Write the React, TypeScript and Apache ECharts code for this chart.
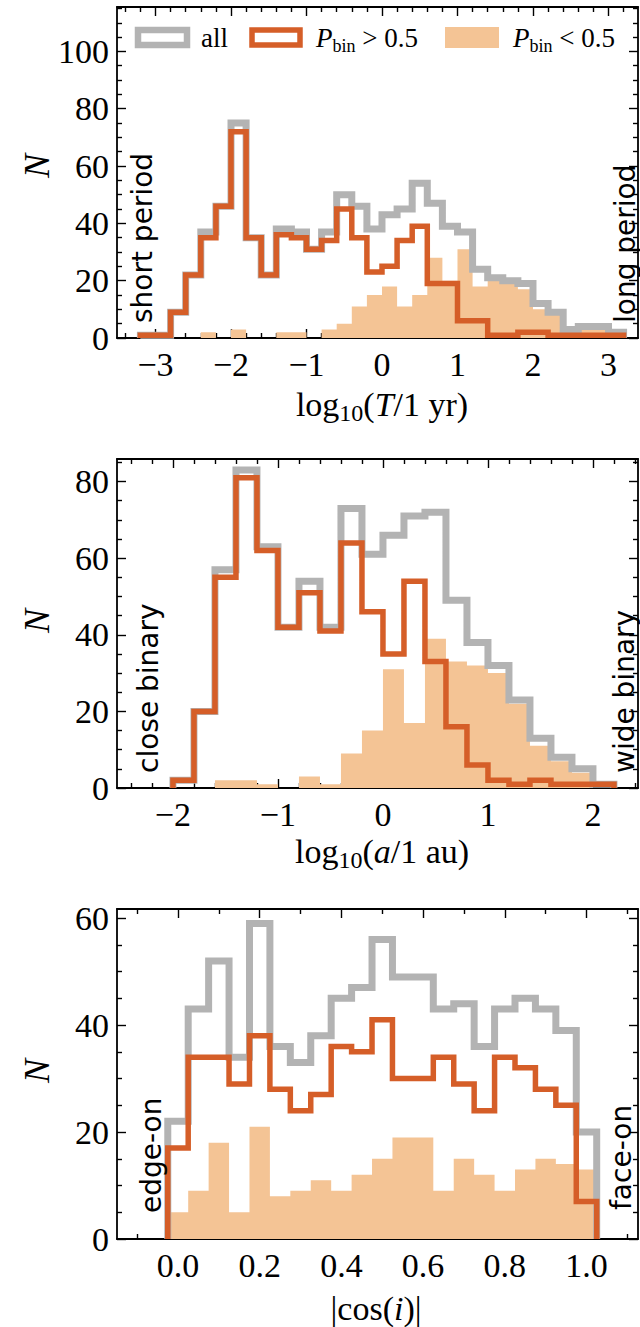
import React, { useEffect, useRef } from "react";
import * as echarts from "echarts";

// ---------- data: panel 1, log10(T / 1 yr), bins of 0.2 starting at -3.2 ----------
const periodBinStart = -3.2;
const periodBinWidth = 0.2;
const periodAll = [1, 1, 9, 22, 37, 46, 75, 35, 22, 38, 37, 31, 37, 50, 46, 38, 43, 45, 54, 47, 39, 37, 24, 21, 20, 19, 12, 9, 3, 4, 4, 2];
const periodHigh = [1, 1, 9, 22, 35, 46, 72, 35, 22, 36, 35, 31, 34, 45, 35, 23, 25, 34, 39, 19, 19, 6, 6, 1, 1, 2, 2, 1, 1, 1, 1, 1];
const periodLow = [0, 0, 0, 0, 2, 0, 3, 0, 0, 2, 2, 0, 3, 5, 11, 15, 18, 11, 15, 28, 20, 31, 18, 20, 19, 17, 10, 8, 2, 3, 3, 1];

// ---------- data: panel 2, log10(a / 1 au), bins of 0.2 starting at -2.0 ----------
const sepBinStart = -2.0;
const sepBinWidth = 0.2;
const sepAll = [2, 20, 57, 83, 63, 42, 54, 42, 73, 61, 66, 71, 72, 49, 38, 32, 23, 13, 8, 5, 1];
const sepHigh = [2, 20, 55, 81, 62, 42, 51, 41, 64, 46, 35, 54, 33, 16, 6, 2, 1, 2, 1, 1, 1];
const sepLow = [0, 0, 2, 2, 1, 0, 3, 1, 9, 15, 31, 17, 39, 33, 32, 30, 22, 11, 7, 4, 0];

// ---------- data: panel 3, |cos(i)|, bins of 0.05 starting at -0.025 ----------
const incBinStart = -0.025;
const incBinWidth = 0.05;
const incAll = [22, 43, 52, 34, 59, 36, 33, 38, 45, 47, 56, 49, 49, 43, 44, 36, 43, 45, 43, 39, 20];
const incHigh = [17, 34, 34, 29, 38, 28, 24, 27, 36, 35, 41, 30, 30, 34, 29, 24, 34, 32, 28, 25, 7];
const incLow = [5, 9, 18, 5, 21, 8, 9, 11, 9, 12, 15, 19, 19, 9, 15, 12, 9, 13, 15, 14, 13];

// ---------- tick labels ----------
const periodTicks = [-3, -2, -1, 0, 1, 2, 3];
const sepTicks = [-2, -1, 0, 1, 2];
const incTicks = [0, 0.2, 0.4, 0.6, 0.8, 1.0];
const yTicksPeriod = [0, 20, 40, 60, 80, 100];
const yTicksSep = [0, 20, 40, 60, 80];
const yTicksInc = [0, 20, 40, 60];

const seriesNames = ["all", "P_bin > 0.5", "P_bin < 0.5"];

// ---------- styles ----------
const GREY = "#b3b3b3";
const ORANGE = "#d55e28";
const FILL = "#f4c495";
const SERIF = '"Liberation Serif", "Times New Roman", serif';
const SANS = '"DejaVu Sans", "Noto Sans", sans-serif';
const TICK_FONT = 34;

function stepPoints(start: number, width: number, values: number[]) {
  const pts: number[][] = [[start, 0]];
  values.forEach((v, i) => {
    const x0 = +(start + i * width).toFixed(6);
    const x1 = +(start + (i + 1) * width).toFixed(6);
    pts.push([x0, v], [x1, v]);
  });
  pts.push([+(start + values.length * width).toFixed(6), 0]);
  return pts;
}

function minorTicks(min: number, max: number, step: number, majors: number[]) {
  const out: number[] = [];
  const k0 = Math.ceil(min / step - 1e-9);
  const k1 = Math.floor(max / step + 1e-9);
  for (let k = k0; k <= k1; k++) {
    const v = +(k * step).toFixed(6);
    if (!majors.some((m) => Math.abs(m - v) < 1e-6)) out.push(v);
  }
  return out;
}

const fmtInt = (v: number) => (v < 0 ? "\u2212" + Math.abs(v) : String(v));
const fmtDec = (v: number) => v.toFixed(1);

const panels = [
  {
    grid: { left: 117, top: 7, width: 521, height: 331 },
    xMin: -3.51, xMax: 3.391, yMax: 115.5,
    xMajors: periodTicks, xMinorStep: 0.2, yMajors: yTicksPeriod, yMinorStep: 5,
    start: periodBinStart, width: periodBinWidth,
    all: periodAll, high: periodHigh, low: periodLow, fmt: fmtInt,
  },
  {
    grid: { left: 117, top: 459, width: 521, height: 329 },
    xMin: -2.533, xMax: 2.429, yMax: 85.9,
    xMajors: sepTicks, xMinorStep: 0.2, yMajors: yTicksSep, yMinorStep: 5,
    start: sepBinStart, width: sepBinWidth,
    all: sepAll, high: sepHigh, low: sepLow, fmt: fmtInt,
  },
  {
    grid: { left: 117, top: 909, width: 521, height: 330 },
    xMin: -0.1493, xMax: 1.1261, yMax: 61.7,
    xMajors: incTicks, xMinorStep: 0.1, yMajors: yTicksInc, yMinorStep: 5,
    start: incBinStart, width: incBinWidth,
    all: incAll, high: incHigh, low: incLow, fmt: fmtDec,
  },
];

const axisLineStyle = { color: "#000", width: 1.8 };
const tickLineStyle = { color: "#000", width: 1.4 };

function makeAxes(gi: number, p: any, dim: "x" | "y") {
  const isX = dim === "x";
  const min = isX ? p.xMin : 0;
  const max = isX ? p.xMax : p.yMax;
  const majors = isX ? p.xMajors : p.yMajors;
  const minors = minorTicks(min, max, isX ? p.xMinorStep : p.yMinorStep, majors);
  const base = { type: "value", gridIndex: gi, min, max, splitLine: { show: false }, splitArea: { show: false } };
  const pos = isX ? ["bottom", "top"] : ["left", "right"];
  const axes: any[] = [];
  pos.forEach((position, j) => {
    axes.push({
      ...base,
      position,
      axisLine: { show: true, onZero: false, lineStyle: axisLineStyle },
      axisTick: { show: true, inside: true, length: 9, customValues: majors, lineStyle: tickLineStyle },
      axisLabel:
        j === 0
          ? {
              show: true,
              customValues: majors,
              formatter: isX ? p.fmt : fmtInt,
              margin: isX ? 9 : 8,
              color: "#000",
              fontFamily: SERIF,
              fontSize: TICK_FONT,
            }
          : { show: false },
    });
    axes.push({
      ...base,
      position,
      axisLine: { show: false, onZero: false },
      axisTick: { show: true, inside: true, length: 5, customValues: minors, lineStyle: tickLineStyle },
      axisLabel: { show: false },
    });
  });
  return axes;
}

const subRich = {
  r: { fontFamily: SERIF, fontSize: TICK_FONT, lineHeight: 42, verticalAlign: "middle", fill: "#000" },
  i: { fontFamily: SERIF, fontStyle: "italic", fontSize: TICK_FONT, lineHeight: 42, verticalAlign: "middle", fill: "#000" },
  s: { fontFamily: SERIF, fontSize: 24, lineHeight: 24, verticalAlign: "bottom", fill: "#000" },
};
const legRich = {
  r: { fontFamily: SERIF, fontSize: 27, lineHeight: 34, verticalAlign: "middle", fill: "#000" },
  i: { fontFamily: SERIF, fontStyle: "italic", fontSize: 27, lineHeight: 34, verticalAlign: "middle", fill: "#000" },
  s: { fontFamily: SERIF, fontSize: 18, lineHeight: 18, verticalAlign: "bottom", fill: "#000" },
};

function sideText(text: string, x: number, y: number) {
  return {
    type: "text",
    x,
    y,
    rotation: Math.PI / 2,
    style: { text, fontFamily: SANS, fontSize: 28, fill: "#000", align: "left", verticalAlign: "middle" },
    z: 10,
  };
}
function nLabel(y: number) {
  return {
    type: "text",
    x: 37,
    y,
    rotation: Math.PI / 2,
    style: { text: "N", fontFamily: SERIF, fontStyle: "italic", fontSize: 36, fill: "#000", align: "center", verticalAlign: "middle" },
  };
}

export default function App() {
  const ref = useRef<HTMLDivElement>(null);
  useEffect(() => {
    if (!ref.current) return;
    const chart = echarts.init(ref.current, undefined, { renderer: "svg" });
    const xAxis: any[] = [];
    const yAxis: any[] = [];
    const series: any[] = [];
    panels.forEach((p, gi) => {
      xAxis.push(...makeAxes(gi, p, "x"));
      yAxis.push(...makeAxes(gi, p, "y"));
      const ai = gi * 4;
      series.push({
        name: seriesNames[2],
        type: "line",
        xAxisIndex: ai,
        yAxisIndex: ai,
        data: stepPoints(p.start, p.width, p.low),
        showSymbol: false,
        symbol: "none",
        lineStyle: { width: 0, opacity: 0 },
        areaStyle: { color: FILL, opacity: 1 },
        silent: true,
        z: 1,
      });
      series.push({
        name: seriesNames[0],
        type: "line",
        xAxisIndex: ai,
        yAxisIndex: ai,
        data: stepPoints(p.start, p.width, p.all),
        showSymbol: false,
        symbol: "none",
        lineStyle: { color: GREY, width: 7, join: "miter", cap: "butt" },
        silent: true,
        z: 2,
      });
      series.push({
        name: seriesNames[1],
        type: "line",
        xAxisIndex: ai,
        yAxisIndex: ai,
        data: stepPoints(p.start, p.width, p.high),
        showSymbol: false,
        symbol: "none",
        lineStyle: { color: ORANGE, width: 5.5, join: "miter", cap: "butt" },
        silent: true,
        z: 3,
      });
    });

    const graphic: any[] = [
      // legend
      { type: "rect", shape: { x: 138, y: 30, width: 49, height: 15 }, style: { fill: "none", stroke: GREY, lineWidth: 6.5 }, z: 20 },
      { type: "text", x: 201, y: 38, style: { text: "all", fontFamily: SERIF, fontSize: 27, fill: "#000", align: "left", verticalAlign: "middle" }, z: 20 },
      { type: "rect", shape: { x: 252, y: 30, width: 48, height: 15 }, style: { fill: "none", stroke: ORANGE, lineWidth: 5.5 }, z: 20 },
      { type: "text", x: 316, y: 38, style: { text: "{i|P}{s|bin}{r| > 0.5}", rich: legRich, align: "left", verticalAlign: "middle" }, z: 20 },
      { type: "rect", shape: { x: 445, y: 27, width: 54, height: 21 }, style: { fill: FILL }, z: 20 },
      { type: "text", x: 513, y: 38, style: { text: "{i|P}{s|bin}{r| < 0.5}", rich: legRich, align: "left", verticalAlign: "middle" }, z: 20 },
      // y labels
      nLabel(166),
      nLabel(621),
      nLabel(1071),
      // x titles
      { type: "text", x: 382, y: 404, style: { text: "{r|log}{s|10}{r|(}{i|T}{r|/1 yr)}", rich: subRich, align: "center", verticalAlign: "middle" } },
      { type: "text", x: 382, y: 851, style: { text: "{r|log}{s|10}{r|(}{i|a}{r|/1 au)}", rich: subRich, align: "center", verticalAlign: "middle" } },
      { type: "text", x: 376, y: 1308, style: { text: "{r||cos(}{i|i}{r|)|}", rich: subRich, align: "center", verticalAlign: "middle" } },
      // annotations
      sideText("short period", 142, 323),
      sideText("long period", 625, 323),
      sideText("close binary", 148, 773),
      sideText("wide binary", 624, 773),
      sideText("edge-on", 151, 1213),
      sideText("face-on", 621, 1210),
    ];

    chart.setOption({
      animation: false,
      backgroundColor: "#fff",
      textStyle: { fontFamily: SERIF },
      grid: panels.map((p) => ({ ...p.grid, containLabel: false, outerBoundsMode: "none" })),
      xAxis,
      yAxis,
      series,
      graphic,
    });
    return () => chart.dispose();
  }, []);
  return <div ref={ref} style={{ position: "absolute", left: 0, top: 0, width: 640, height: 1327 }} />;
}
